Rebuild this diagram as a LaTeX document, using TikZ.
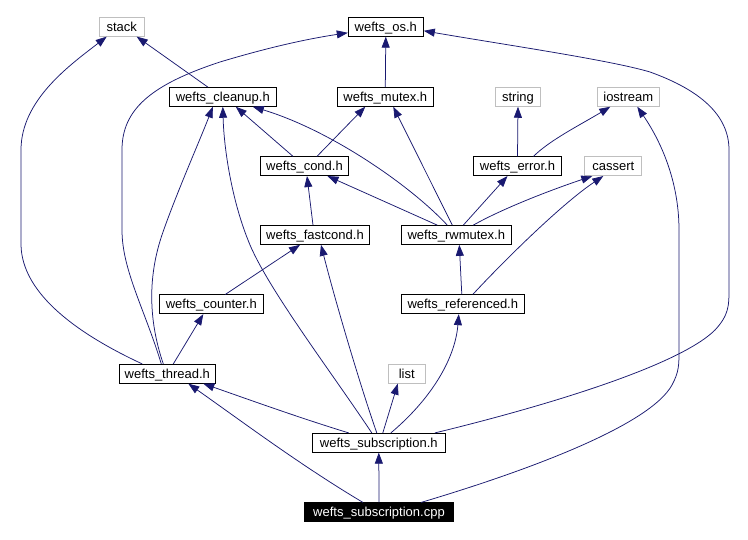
\documentclass[tikz,border=0pt]{standalone}
\usepackage{fontspec}
\setmainfont{Liberation Sans}
\usetikzlibrary{arrows.meta}
\definecolor{navy}{HTML}{191970}
\definecolor{lgray}{HTML}{BFBFBF}
\tikzset{
  hbox/.style={draw=black, line width=1pt, minimum height=18.7pt, inner sep=0pt,
    text height=9.3pt, text depth=0pt,
    font=\fontsize{13}{15}\selectfont, anchor=center},
  gbox/.style={hbox, draw=lgray},
  cppbox/.style={hbox, fill=black, text=white},
  dep/.style={draw=navy, line width=0.75pt, -{Triangle[length=11pt,width=8pt]}}
}
\begin{document}
\begin{tikzpicture}[x=1pt,y=-1pt]
\useasboundingbox[fill=white] (0,0) rectangle (748,540);
% nodes
\node[gbox, minimum width=45.3pt] (stack) at (121.7,26.8) {stack};
\node[hbox, minimum width=75pt] (os) at (385.8,26.8) {wefts\_os.h};
\node[hbox, minimum width=107pt] (cleanup) at (222.8,96.9) {wefts\_cleanup.h};
\node[hbox, minimum width=96pt] (mutex) at (385.3,96.9) {wefts\_mutex.h};
\node[gbox, minimum width=45.3pt] (string) at (518,96.9) {string};
\node[gbox, minimum width=62pt] (iostream) at (628.3,96.9) {iostream};
\node[hbox, minimum width=87.7pt] (cond) at (304.5,166.2) {wefts\_cond.h};
\node[hbox, minimum width=88.3pt] (error) at (517.5,166.2) {wefts\_error.h};
\node[gbox, minimum width=56.7pt] (cassert) at (613.3,166.2) {cassert};
\node[hbox, minimum width=108.7pt] (fastcond) at (315,235) {wefts\_fastcond.h};
\node[hbox, minimum width=110pt] (rwmutex) at (456.3,235) {wefts\_rwmutex.h};
\node[hbox, minimum width=104pt] (counter) at (211.3,304.3) {wefts\_counter.h};
\node[hbox, minimum width=123pt] (referenced) at (462.8,304.3) {wefts\_referenced.h};
\node[hbox, minimum width=96pt] (thread) at (167.3,373.8) {wefts\_thread.h};
\node[gbox, minimum width=37pt] (list) at (406.8,373.8) {list};
\node[hbox, minimum width=133pt] (sub) at (378.8,442.8) {wefts\_subscription.h};
\node[cppbox, minimum width=149.5pt] (cpp) at (379,512.3) {wefts\_subscription.cpp};
% edges
\draw[dep] ([xshift=-15pt]cleanup.north) -- ([xshift=15pt]stack.south);
\draw[dep] ([xshift=-25pt]thread.north) .. controls (80,335) and (22,295) .. (21,245) -- (21,150) .. controls (21,100) and (70,65) .. ([xshift=-15pt]stack.south);
\draw[dep] ([xshift=-6pt]thread.north) .. controls (145,310) and (122,270) .. (122,230) -- (122,150) .. controls (122,110) and (150,85) .. (220,62) .. controls (260,50) and (300,40) .. ([yshift=-6pt]os.west);
\draw[dep] ([xshift=-4pt]thread.north) .. controls (150,325) and (146,280) .. (163,232) .. controls (177,192) and (200,140) .. ([xshift=-10pt]cleanup.south);
\draw[dep] ([xshift=6pt]thread.north) -- ([xshift=-8pt]counter.south);
\draw[dep] (mutex.north) -- (os.south);
\draw[dep] ([xshift=56pt]sub.north) .. controls (550,405) and (680,365) .. (715,330) .. controls (729,315) and (729,305) .. (729,290) -- (729,150) .. controls (729,115) and (700,90) .. (650,72) .. controls (610,60) and (500,44) .. ([yshift=-4pt]os.east);
\draw[dep] ([xshift=-11.5pt]cond.north) -- ([xshift=13pt]cleanup.south);
\draw[dep] ([xshift=12.5pt]cond.north) -- ([xshift=-20pt]mutex.south);
\draw[dep] ([xshift=-9pt]rwmutex.north) .. controls (410,185) and (330,130) .. ([xshift=30pt]cleanup.south);
\draw[dep] ([xshift=-4pt]rwmutex.north) -- ([xshift=8pt]mutex.south);
\draw[dep] ([xshift=-19pt]rwmutex.north) -- ([xshift=23pt]cond.south);
\draw[dep] ([xshift=7pt]rwmutex.north) -- ([xshift=-10pt]error.south);
\draw[dep] ([xshift=17pt]rwmutex.north) .. controls (500,210) and (545,192) .. ([xshift=-21pt]cassert.south);
\draw[dep] ([xshift=-2pt]fastcond.north) -- ([xshift=2.5pt]cond.south);
\draw[dep] (error.north) -- (string.south);
\draw[dep] ([xshift=16pt]error.north) .. controls (550,140) and (580,125) .. ([xshift=-18pt]iostream.south);
\draw[dep] ([xshift=10pt]referenced.north) .. controls (500,265) and (560,205) .. ([xshift=-10pt]cassert.south);
\draw[dep] ([xshift=-1pt]referenced.north) -- ([xshift=3pt]rwmutex.south);
\draw[dep] ([xshift=14pt]counter.north) -- ([xshift=-15pt]fastcond.south);
\draw[dep] ([xshift=-7pt]sub.north) .. controls (330,370) and (265,285) .. (248,240) .. controls (232,200) and (224,150) .. (cleanup.south);
\draw[dep] ([xshift=-2pt]sub.north) .. controls (360,385) and (335,300) .. ([xshift=6pt]fastcond.south);
\draw[dep] ([xshift=12pt]sub.north) .. controls (430,400) and (455,360) .. ([xshift=-4pt]referenced.south);
\draw[dep] ([xshift=4pt]sub.north) -- ([xshift=-9pt]list.south);
\draw[dep] ([xshift=-30pt]sub.north) .. controls (300,418) and (250,400) .. ([xshift=36pt]thread.south);
\draw[dep] ([xshift=-16pt]cpp.north) .. controls (300,465) and (240,420) .. ([xshift=21pt]thread.south);
\draw[dep] (cpp.north) -- (sub.south);
\draw[dep] ([xshift=42pt]cpp.north) .. controls (530,470) and (650,425) .. (672,385) .. controls (679,372) and (679,365) .. (679,350) -- (679,230) .. controls (679,180) and (660,140) .. ([xshift=9pt]iostream.south);
\end{tikzpicture}
\end{document}
